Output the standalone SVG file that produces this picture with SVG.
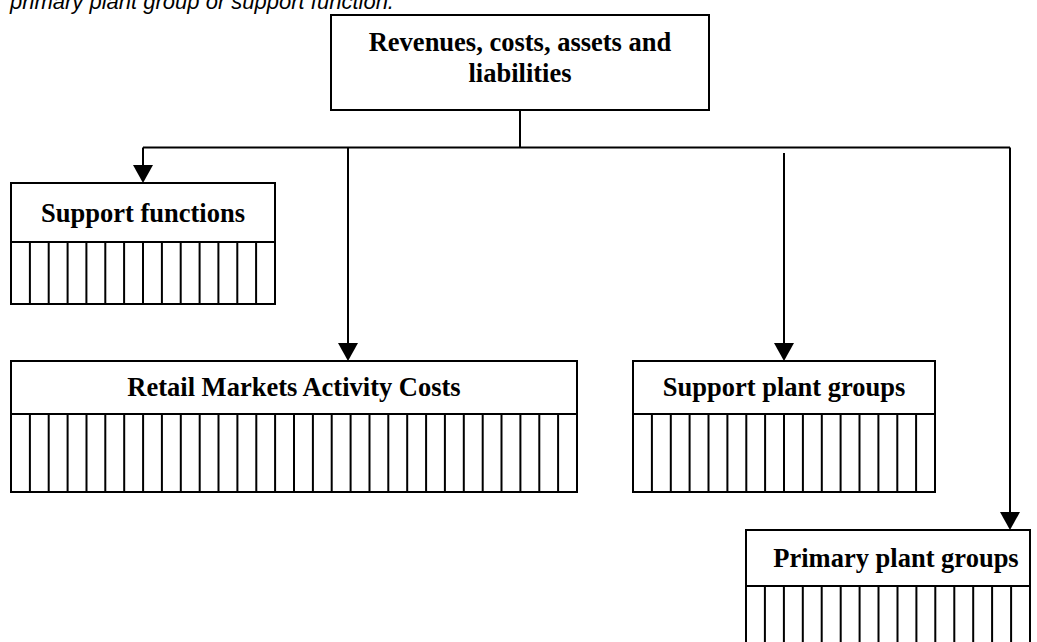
<svg xmlns="http://www.w3.org/2000/svg" width="1037" height="642" viewBox="0 0 1037 642">
  <style>
    .box { fill: #fff; stroke: #000; stroke-width: 2; }
    .cols { fill: none; stroke: #000; stroke-width: 2; }
    .lbl { font-family: "Liberation Serif", "Times New Roman", serif; font-weight: bold; font-size: 26.5px; fill: #000; text-anchor: middle; }
    .note { font-family: "Liberation Sans", Arial, sans-serif; font-style: italic; font-size: 22px; fill: #000; }
    .wire { fill: none; stroke: #000; stroke-width: 2; }
  </style>
  <defs>
    <marker id="arrow" viewBox="0 0 18 20" refX="16" refY="10" markerWidth="18" markerHeight="20" markerUnits="userSpaceOnUse" orient="auto">
      <path d="M0,0 L18,10 L0,20 z" fill="#000"/>
    </marker>
  </defs>
  <rect width="1037" height="642" fill="#fff"/>

  <!-- caption line, partly above the page edge -->
  <text class="note" x="10" y="8.5">primary plant group or support function.</text>

  <!-- connectors -->
  <g id="connectors">
    <path class="wire" d="M520,110 V147.5"/>
    <path class="wire" d="M143,147.5 H1010"/>
    <path class="wire" d="M143,147.5 V181" marker-end="url(#arrow)"/>
    <path class="wire" d="M348,147.5 V359" marker-end="url(#arrow)"/>
    <path class="wire" d="M784,153 V359" marker-end="url(#arrow)"/>
    <path class="wire" d="M1010,147.5 V528" marker-end="url(#arrow)"/>
  </g>

  <!-- root node -->
  <g id="root">
    <rect class="box" x="331" y="15" width="378" height="95"/>
    <text class="lbl" x="520" y="51">Revenues, costs, assets and</text>
    <text class="lbl" x="520" y="82">liabilities</text>
  </g>

  <!-- support functions -->
  <g id="support-functions">
    <rect class="box" x="11" y="183" width="264" height="121"/>
    <path class="cols" d="M11,242 H275 M29.9,242 V304 M48.7,242 V304 M67.6,242 V304 M86.4,242 V304 M105.3,242 V304 M124.1,242 V304 M143,242 V304 M161.9,242 V304 M180.7,242 V304 M199.6,242 V304 M218.4,242 V304 M237.3,242 V304 M256.1,242 V304"/>
    <text class="lbl" x="143" y="221.5">Support functions</text>
  </g>

  <!-- retail markets activity costs -->
  <g id="retail-costs">
    <rect class="box" x="11" y="361" width="566" height="131"/>
    <path class="cols" d="M11,414 H577 M29.9,414 V492 M48.7,414 V492 M67.6,414 V492 M86.5,414 V492 M105.3,414 V492 M124.2,414 V492 M143.1,414 V492 M161.9,414 V492 M180.8,414 V492 M199.7,414 V492 M218.5,414 V492 M237.4,414 V492 M256.3,414 V492 M275.1,414 V492 M294,414 V492 M312.9,414 V492 M331.7,414 V492 M350.6,414 V492 M369.5,414 V492 M388.3,414 V492 M407.2,414 V492 M426.1,414 V492 M444.9,414 V492 M463.8,414 V492 M482.7,414 V492 M501.5,414 V492 M520.4,414 V492 M539.3,414 V492 M558.1,414 V492"/>
    <text class="lbl" x="294" y="396">Retail Markets Activity Costs</text>
  </g>

  <!-- support plant groups -->
  <g id="support-plant">
    <rect class="box" x="633" y="361" width="302" height="131"/>
    <path class="cols" d="M633,414 H935 M651.9,414 V492 M670.8,414 V492 M689.6,414 V492 M708.5,414 V492 M727.4,414 V492 M746.3,414 V492 M765.1,414 V492 M784,414 V492 M802.9,414 V492 M821.8,414 V492 M840.6,414 V492 M859.5,414 V492 M878.4,414 V492 M897.3,414 V492 M916.1,414 V492"/>
    <text class="lbl" x="784" y="396">Support plant groups</text>
  </g>

  <!-- primary plant groups -->
  <g id="primary-plant">
    <rect class="box" x="746" y="530" width="284" height="130"/>
    <path class="cols" d="M746,586 H1030 M764.9,586 V660 M783.9,586 V660 M802.8,586 V660 M821.7,586 V660 M840.7,586 V660 M859.6,586 V660 M878.5,586 V660 M897.5,586 V660 M916.4,586 V660 M935.3,586 V660 M954.3,586 V660 M973.2,586 V660 M992.1,586 V660 M1011.1,586 V660"/>
    <text class="lbl" x="896" y="567">Primary plant groups</text>
  </g>
</svg>
